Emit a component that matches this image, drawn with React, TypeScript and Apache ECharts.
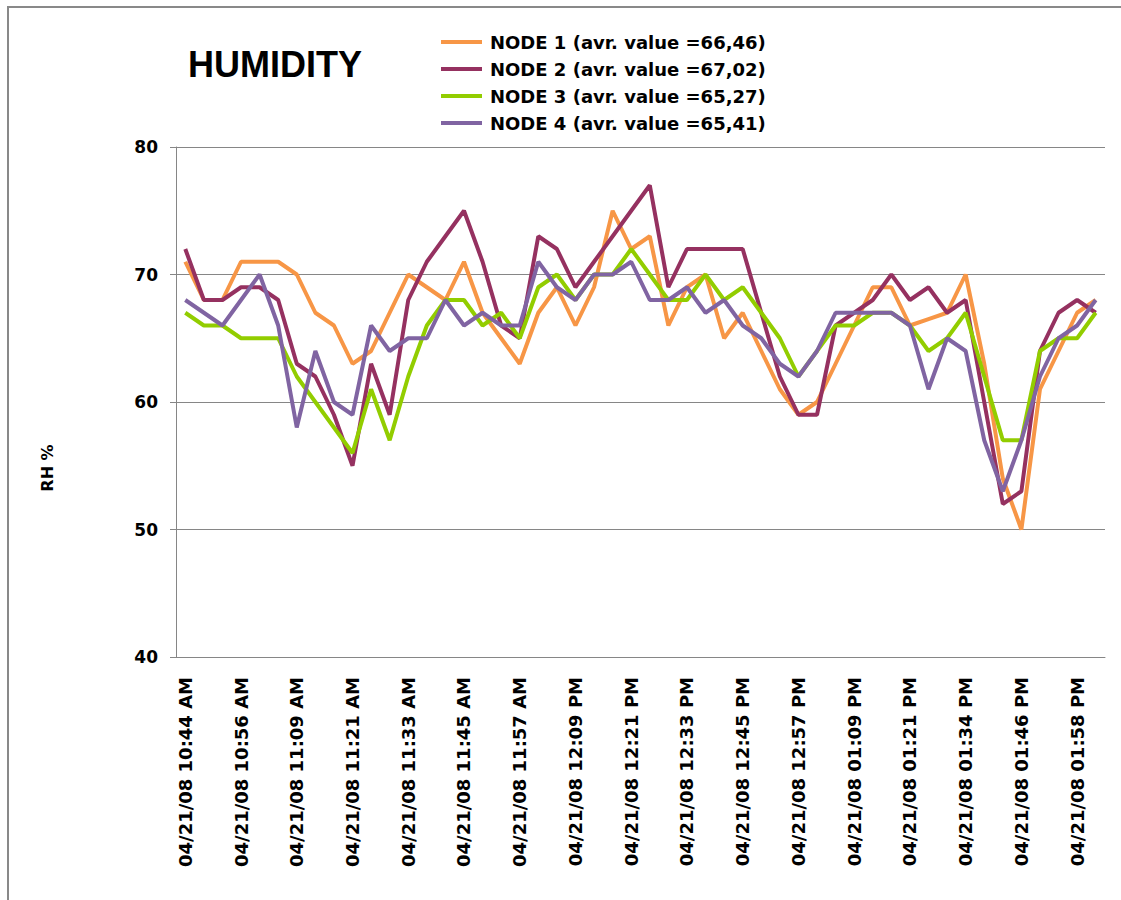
import React, { useEffect, useRef } from "react";
import * as echarts from "echarts";

const categories = [
  "04/21/08 10:44 AM", "04/21/08 10:48 AM", "04/21/08 10:52 AM",
  "04/21/08 10:56 AM", "04/21/08 11:00 AM", "04/21/08 11:04 AM",
  "04/21/08 11:09 AM", "04/21/08 11:13 AM", "04/21/08 11:17 AM",
  "04/21/08 11:21 AM", "04/21/08 11:25 AM", "04/21/08 11:29 AM",
  "04/21/08 11:33 AM", "04/21/08 11:37 AM", "04/21/08 11:41 AM",
  "04/21/08 11:45 AM", "04/21/08 11:49 AM", "04/21/08 11:53 AM",
  "04/21/08 11:57 AM", "04/21/08 12:01 PM", "04/21/08 12:05 PM",
  "04/21/08 12:09 PM", "04/21/08 12:13 PM", "04/21/08 12:17 PM",
  "04/21/08 12:21 PM", "04/21/08 12:25 PM", "04/21/08 12:29 PM",
  "04/21/08 12:33 PM", "04/21/08 12:37 PM", "04/21/08 12:41 PM",
  "04/21/08 12:45 PM", "04/21/08 12:49 PM", "04/21/08 12:53 PM",
  "04/21/08 12:57 PM", "04/21/08 01:01 PM", "04/21/08 01:05 PM",
  "04/21/08 01:09 PM", "04/21/08 01:13 PM", "04/21/08 01:17 PM",
  "04/21/08 01:21 PM", "04/21/08 01:25 PM", "04/21/08 01:29 PM",
  "04/21/08 01:34 PM", "04/21/08 01:38 PM", "04/21/08 01:42 PM",
  "04/21/08 01:46 PM", "04/21/08 01:50 PM", "04/21/08 01:54 PM",
  "04/21/08 01:58 PM", "04/21/08 02:02 PM",
];

const node1 = [
  71, 68, 68, 71, 71, 71, 70, 67, 66, 63,
  64, 67, 70, 69, 68, 71, 67, 65, 63, 67,
  69, 66, 69, 75, 72, 73, 66, 69, 70, 65,
  67, 64, 61, 59, 60, 63, 66, 69, 69, 66,
  66.5, 67, 70, 63, 54, 50, 61, 64, 67, 68,
];
const node2 = [
  72, 68, 68, 69, 69, 68, 63, 62, 59, 55,
  63, 59, 68, 71, 73, 75, 71, 66, 65, 73,
  72, 69, 71, 73, 75, 77, 69, 72, 72, 72,
  72, 67, 62, 59, 59, 66, 67, 68, 70, 68,
  69, 67, 68, 60, 52, 53, 64, 67, 68, 67,
];
const node3 = [
  67, 66, 66, 65, 65, 65, 62, 60, 58, 56,
  61, 57, 62, 66, 68, 68, 66, 67, 65, 69,
  70, 68, 70, 70, 72, 70, 68, 68, 70, 68,
  69, 67, 65, 62, 64, 66, 66, 67, 67, 66,
  64, 65, 67, 62, 57, 57, 64, 65, 65, 67,
];
const node4 = [
  68, 67, 66, 68, 70, 66, 58, 64, 60, 59,
  66, 64, 65, 65, 68, 66, 67, 66, 66, 71,
  69, 68, 70, 70, 71, 68, 68, 69, 67, 68,
  66, 65, 63, 62, 64, 67, 67, 67, 67, 66,
  61, 65, 64, 57, 53, 57, 62, 65, 66, 68,
];

const seriesNames = [
  "NODE 1 (avr. value =66,46)",
  "NODE 2 (avr. value =67,02)",
  "NODE 3 (avr. value =65,27)",
  "NODE 4 (avr. value =65,41)",
];
const seriesColors = ["#F79646", "#953160", "#92CD00", "#8064A2"];
const seriesData = [node1, node2, node3, node4];

const titleText = "HUMIDITY";
const yAxisTitle = "RH %";

export default function App() {
  const ref = useRef<HTMLDivElement>(null);

  useEffect(() => {
    if (!ref.current) return;
    const chart = echarts.init(ref.current, null, { renderer: "svg" });
    const gray = "#868686";
    chart.setOption({
      animation: false,
      backgroundColor: "#ffffff",
      grid: { left: 176, right: 16, top: 147, bottom: 243, containLabel: false },
      legend: {
        orient: "vertical",
        left: 436,
        top: 27,
        icon: "rect",
        itemWidth: 41,
        itemHeight: 4,
        itemGap: 7,
        data: seriesNames,
        textStyle: {
          fontFamily: "DejaVu Sans",
          fontWeight: "bold",
          fontSize: 18,
          lineHeight: 20,
          color: "#000",
          padding: [0, 0, 0, 3],
        },
      },
      xAxis: {
        type: "category",
        data: categories,
        boundaryGap: true,
        axisLine: { show: true, lineStyle: { color: gray, width: 1 } },
        axisTick: { show: false },
        axisLabel: {
          interval: 2,
          rotate: 90,
          margin: 20,
          fontFamily: "DejaVu Sans",
          fontWeight: "bold",
          fontSize: 18,
          color: "#000",
        },
        splitLine: { show: false },
      },
      yAxis: {
        type: "value",
        min: 40,
        max: 80,
        interval: 10,
        axisLine: { show: true, lineStyle: { color: gray, width: 1 } },
        axisTick: { show: true, inside: false, length: 6, lineStyle: { color: gray } },
        axisLabel: {
          margin: 18,
          fontFamily: "DejaVu Sans",
          fontWeight: "bold",
          fontSize: 17,
          color: "#000",
        },
        splitLine: { show: true, lineStyle: { color: gray, width: 1 } },
      },
      series: seriesData.map((d, i) => ({
        name: seriesNames[i],
        type: "line",
        data: d,
        symbol: "none",
        showSymbol: false,
        lineStyle: { color: seriesColors[i], width: 4 },
        itemStyle: { color: seriesColors[i] },
      })),
      graphic: [
        {
          type: "rect",
          silent: true,
          shape: { x: 8, y: 7, width: 1200, height: 1000 },
          style: { fill: "none", stroke: "#898989", lineWidth: 2 },
        },
        {
          type: "text",
          x: 188,
          y: 64,
          style: {
            text: titleText,
            fontFamily: "Liberation Sans",
            fontWeight: "bold",
            fontSize: 36,
            fill: "#000",
            align: "left",
            verticalAlign: "middle",
          },
        },
        {
          type: "text",
          x: 47,
          y: 468,
          rotation: Math.PI / 2,
          style: {
            text: yAxisTitle,
            fontFamily: "DejaVu Sans",
            fontWeight: "bold",
            fontSize: 16,
            fill: "#000",
            align: "center",
            verticalAlign: "middle",
          },
        },
      ],
    });
    return () => chart.dispose();
  }, []);

  return (
    <div
      ref={ref}
      style={{ position: "absolute", left: 0, top: 0, width: 1121, height: 900 }}
    />
  );
}
